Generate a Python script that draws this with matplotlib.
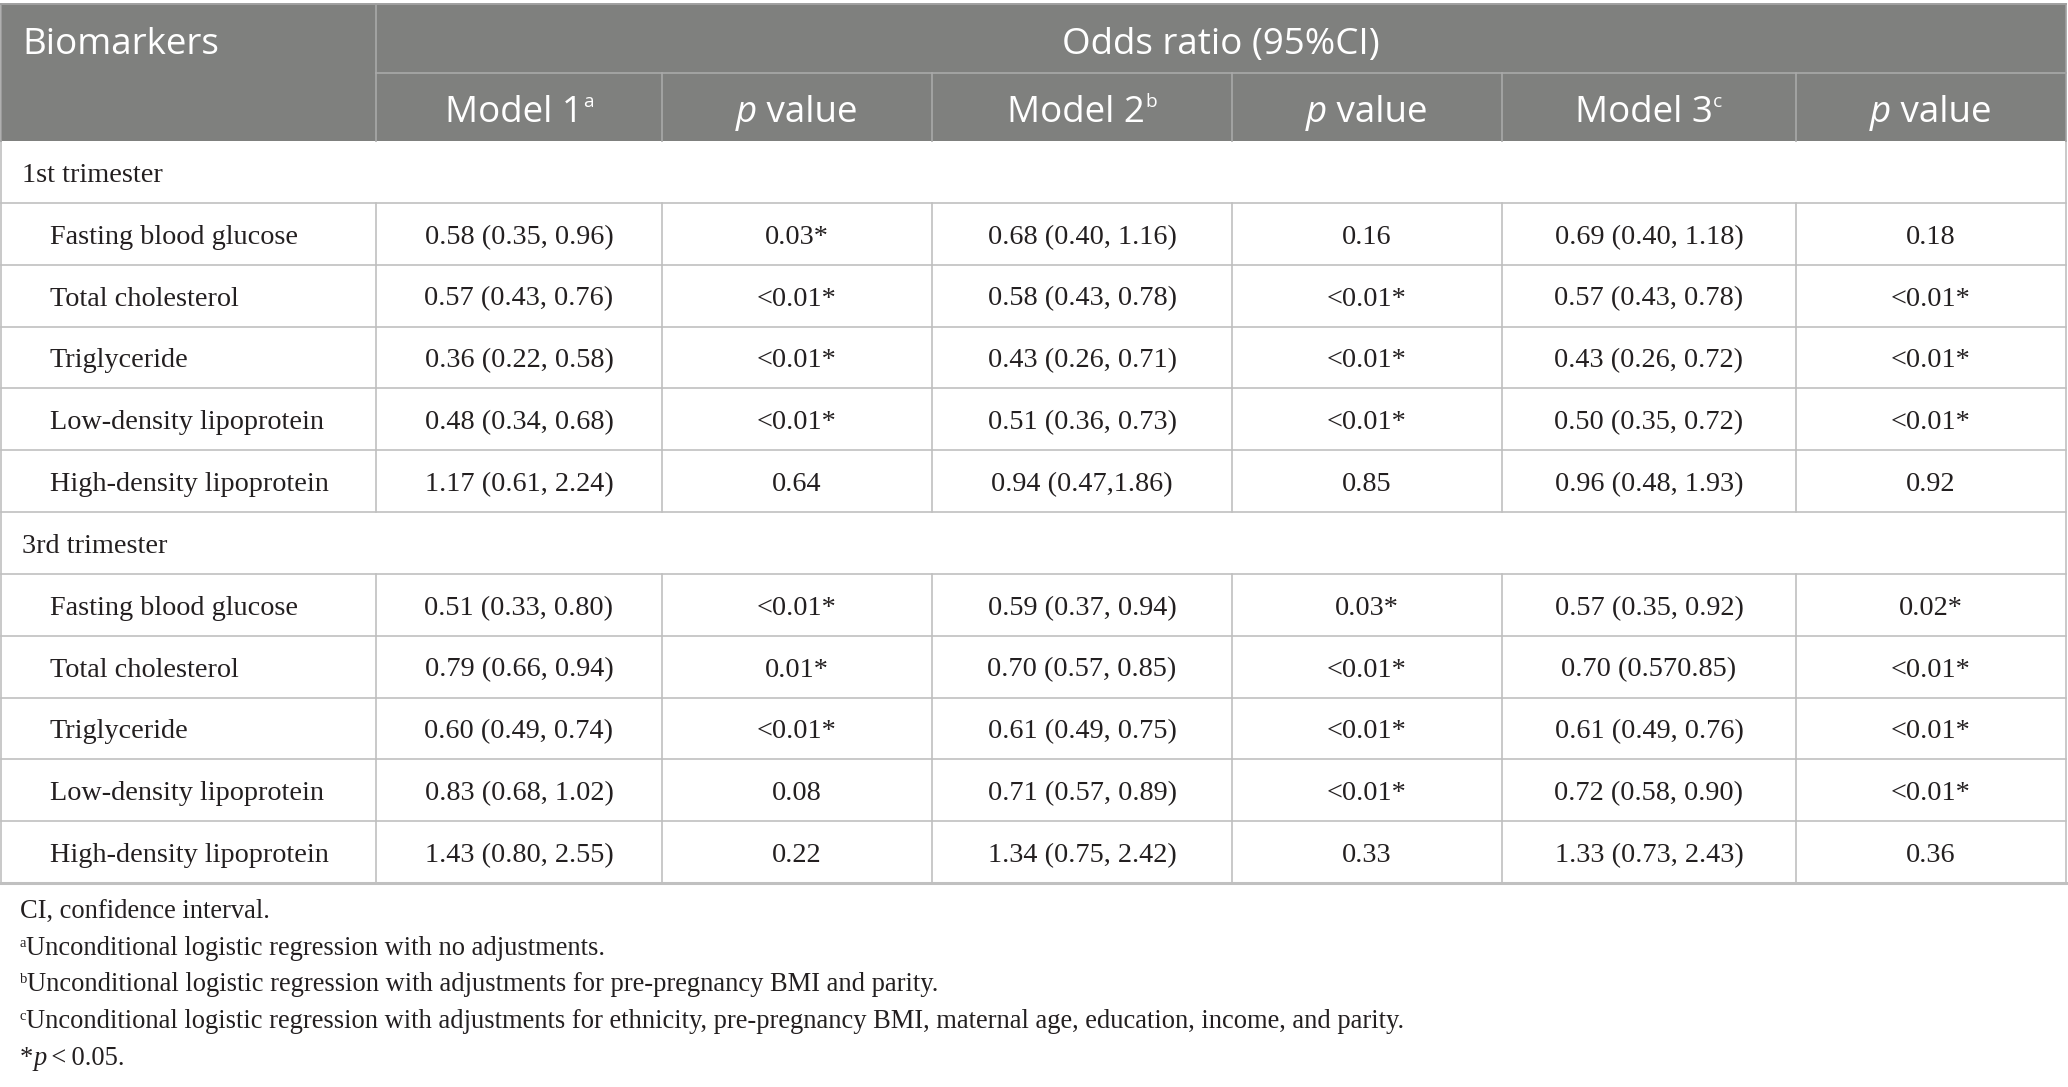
import matplotlib
matplotlib.use("Agg")
import matplotlib.pyplot as plt
from matplotlib.patches import Rectangle

# ---------------- data ----------------
groups = ["1st trimester", "3rd trimester"]
biomarkers = ["Fasting blood glucose", "Total cholesterol", "Triglyceride",
              "Low-density lipoprotein", "High-density lipoprotein"]
col_headers = [("Model 1", "a"), ("p", " value"), ("Model 2", "b"),
               ("p", " value"), ("Model 3", "c"), ("p", " value")]

t1_model1 = ["0.58 (0.35, 0.96)", "0.57 (0.43, 0.76)", "0.36 (0.22, 0.58)", "0.48 (0.34, 0.68)", "1.17 (0.61, 2.24)"]
t1_p1 = ["0.03*", "<0.01*", "<0.01*", "<0.01*", "0.64"]
t1_model2 = ["0.68 (0.40, 1.16)", "0.58 (0.43, 0.78)", "0.43 (0.26, 0.71)", "0.51 (0.36, 0.73)", "0.94 (0.47,1.86)"]
t1_p2 = ["0.16", "<0.01*", "<0.01*", "<0.01*", "0.85"]
t1_model3 = ["0.69 (0.40, 1.18)", "0.57 (0.43, 0.78)", "0.43 (0.26, 0.72)", "0.50 (0.35, 0.72)", "0.96 (0.48, 1.93)"]
t1_p3 = ["0.18", "<0.01*", "<0.01*", "<0.01*", "0.92"]

t3_model1 = ["0.51 (0.33, 0.80)", "0.79 (0.66, 0.94)", "0.60 (0.49, 0.74)", "0.83 (0.68, 1.02)", "1.43 (0.80, 2.55)"]
t3_p1 = ["<0.01*", "0.01*", "<0.01*", "0.08", "0.22"]
t3_model2 = ["0.59 (0.37, 0.94)", "0.70 (0.57, 0.85)", "0.61 (0.49, 0.75)", "0.71 (0.57, 0.89)", "1.34 (0.75, 2.42)"]
t3_p2 = ["0.03*", "<0.01*", "<0.01*", "<0.01*", "0.33"]
t3_model3 = ["0.57 (0.35, 0.92)", "0.70 (0.570.85)", "0.61 (0.49, 0.76)", "0.72 (0.58, 0.90)", "1.33 (0.73, 2.43)"]
t3_p3 = ["0.02*", "<0.01*", "<0.01*", "<0.01*", "0.36"]

footnotes = [
    ("", "CI, confidence interval."),
    ("a", "Unconditional logistic regression with no adjustments."),
    ("b", "Unconditional logistic regression with adjustments for pre-pregnancy BMI and parity."),
    ("c", "Unconditional logistic regression with adjustments for ethnicity, pre-pregnancy BMI, maternal age, education, income, and parity."),
]

# ---------------- layout ----------------
W, H = 2068, 1087
fig = plt.figure(figsize=(W / 100, H / 100), dpi=100)
ax = fig.add_axes([0, 0, 1, 1])
ax.set_xlim(0, W)
ax.set_ylim(H, 0)
ax.axis("off")
renderer = fig.canvas.get_renderer()

SANS = ["Open Sans", "DejaVu Sans"]
SERIF = ["Liberation Serif", "DejaVu Serif"]
HEAD_BG = "#7f807e"
HEAD_LINE = "#a9a9a9"
LINE = "#c0c0c0"
TXT = "#231f20"

col_x = [1, 376, 662, 932, 1232, 1502, 1796, 2066]
head_top, head_mid, head_bot = 4, 73, 141
row_h = (883 - 141) / 12.0
row_y = [head_bot + row_h * i for i in range(13)]

HEAD_FS = 26.5
BODY_FS = 20.3
FOOT_FS = 19.1


def runs_text(x, y, runs, ha="left"):
    """runs: list of (text, fontdict, dy_px). y is the baseline."""
    objs = []
    for txt, kw, dy in runs:
        t = ax.text(0, y + dy, txt, va="baseline", ha="left", **kw)
        objs.append(t)
    widths = [o.get_window_extent(renderer).width for o in objs]
    total = sum(widths)
    start = x - total / 2 if ha == "center" else x
    cur = start
    for o, w in zip(objs, widths):
        o.set_x(cur)
        cur += w


head_kw = dict(family=SANS, fontsize=HEAD_FS, color="white")
head_it = dict(family=SANS, fontsize=HEAD_FS, color="white", style="italic")
head_sup = dict(family=SANS, fontsize=HEAD_FS * 0.52, color="white")
body_kw = dict(family=SERIF, fontsize=BODY_FS, color=TXT)
foot_kw = dict(family=SERIF, fontsize=FOOT_FS, color=TXT)
foot_it = dict(family=SERIF, fontsize=FOOT_FS, color=TXT, style="italic")
foot_sup = dict(family=SERIF, fontsize=FOOT_FS * 0.55, color=TXT)

# header background
ax.add_patch(Rectangle((col_x[0], head_top), col_x[-1] - col_x[0], head_bot - head_top,
                       facecolor=HEAD_BG, edgecolor="none", zorder=0))
# header lines
ax.plot([col_x[1], col_x[-1]], [head_mid, head_mid], color=HEAD_LINE, lw=1.2)
ax.plot([col_x[1], col_x[1]], [head_top, head_bot], color=HEAD_LINE, lw=1.2)
for cx in col_x[2:-1]:
    ax.plot([cx, cx], [head_mid, head_bot], color=HEAD_LINE, lw=1.2)
ax.plot([col_x[0], col_x[-1]], [head_top, head_top], color="#a0a0a0", lw=1.4)

# header text
hb1 = (head_top + head_mid) / 2 + 15
hb2 = (head_mid + head_bot) / 2 + 15
ax.text(22, hb1, "Biomarkers", va="baseline", ha="left", **head_kw)
ax.text((col_x[1] + col_x[-1]) / 2, hb1, "Odds ratio (95%CI)", va="baseline", ha="center", **head_kw)
for i, (a, b) in enumerate(col_headers):
    cx = (col_x[i + 1] + col_x[i + 2]) / 2
    if a == "p":
        runs_text(cx, hb2, [(a, head_it, 0), (b, head_kw, 0)], ha="center")
    else:
        runs_text(cx, hb2, [(a, head_kw, 0), (b, head_sup, -15)], ha="center")

# body
all_cols = [
    [t1_model1, t1_p1, t1_model2, t1_p2, t1_model3, t1_p3],
    [t3_model1, t3_p1, t3_model2, t3_p2, t3_model3, t3_p3],
]
BOFF = 10
r = 0
for g, grp in enumerate(groups):
    y0, y1 = row_y[r], row_y[r + 1]
    ax.text(22, (y0 + y1) / 2 + BOFF, grp, va="baseline", ha="left", **body_kw)
    r += 1
    for j, bm in enumerate(biomarkers):
        y0, y1 = row_y[r], row_y[r + 1]
        base = (y0 + y1) / 2 + BOFF
        ax.text(50, base, bm, va="baseline", ha="left", **body_kw)
        for k, col in enumerate(all_cols[g]):
            cx = (col_x[k + 1] + col_x[k + 2]) / 2
            ax.text(cx, base, col[j], va="baseline", ha="center", **body_kw)
        for cx in col_x[1:-1]:
            ax.plot([cx, cx], [y0, y1], color=LINE, lw=1.2)
        r += 1

# horizontal body lines
for i, yy in enumerate(row_y):
    if i == 0:
        continue
    ax.plot([col_x[0], col_x[-1]], [yy, yy], color=LINE, lw=2.2 if i == 12 else 1.2)
# outer verticals of body
for cx in (col_x[0], col_x[-1]):
    ax.plot([cx, cx], [head_bot, row_y[-1]], color=LINE, lw=1.2)
ax.plot([col_x[0], col_x[0]], [head_top, head_bot], color="#a0a0a0", lw=1.2)
ax.plot([col_x[-1], col_x[-1]], [head_top, head_bot], color="#a0a0a0", lw=1.2)

# footnotes
foot_base = [918, 955, 991, 1028, 1065]
for (sup, txt), fy in zip(footnotes, foot_base):
    if sup:
        runs_text(20, fy, [(sup, foot_sup, -8), (txt, foot_kw, 0)])
    else:
        ax.text(20, fy, txt, va="baseline", ha="left", **foot_kw)
runs_text(20, foot_base[4], [("*", foot_kw, 0), ("p", foot_it, 0), ("\u2009<\u20090.05.", foot_kw, 0)])

fig.savefig("out.png", dpi=100, facecolor="white")
